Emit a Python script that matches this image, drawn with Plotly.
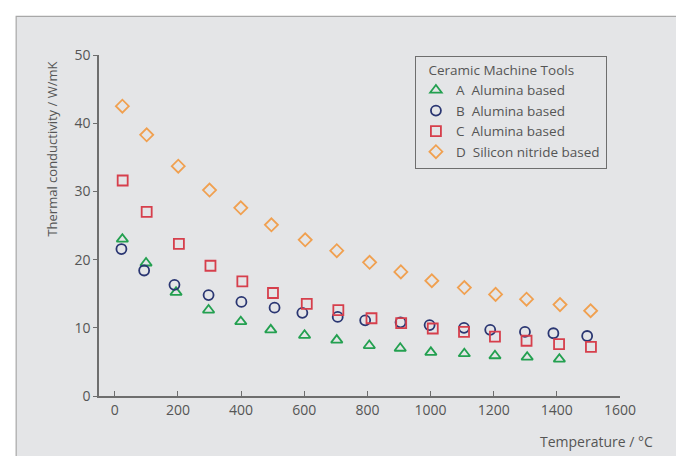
import plotly.graph_objects as go

# Data
a_temp = [24, 99, 194, 297, 399, 494, 601, 703, 806, 904, 1001, 1107, 1204, 1306, 1408]
a_k = [23.0, 19.5, 15.2, 12.6, 10.9, 9.7, 8.9, 8.2, 7.4, 7.0, 6.4, 6.2, 5.9, 5.7, 5.4]

b_temp = [21, 93, 189, 297, 401, 506, 594, 706, 793, 905, 997, 1106, 1189, 1299, 1389, 1496]
b_k = [21.55, 18.4, 16.3, 14.8, 13.8, 12.95, 12.2, 11.6, 11.1, 10.8, 10.4, 10.0, 9.7, 9.4, 9.2, 8.8]

c_temp = [25, 101, 203, 303, 404, 501, 608, 708, 813, 907, 1007, 1106, 1204, 1304, 1407, 1508]
c_k = [31.6, 27.0, 22.3, 19.1, 16.8, 15.1, 13.5, 12.6, 11.4, 10.7, 9.9, 9.4, 8.7, 8.1, 7.6, 7.2]

d_temp = [24, 101, 201, 300, 399, 496, 603, 703, 807, 906, 1004, 1107, 1206, 1304, 1410, 1507]
d_k = [42.5, 38.3, 33.7, 30.2, 27.6, 25.1, 22.9, 21.3, 19.6, 18.2, 16.9, 15.9, 14.9, 14.2, 13.4, 12.5]

x_ticks = [0, 200, 400, 600, 800, 1000, 1200, 1400, 1600]
y_ticks = [0, 10, 20, 30, 40, 50]

series = [
    ("A  Alumina based", a_temp, a_k, "triangle-up-open", "#23a050"),
    ("B  Alumina based", b_temp, b_k, "circle-open", "#2a3672"),
    ("C  Alumina based", c_temp, c_k, "square-open", "#d63f4c"),
    ("D  Silicon nitride based", d_temp, d_k, "diamond-open", "#f0a050"),
]

FONT = "Open Sans"
TXT = "#555555"
AX = "#6e6e6e"

fig = go.Figure()
for name, xs, ys, sym, col in series:
    fig.add_trace(go.Scatter(
        x=xs, y=ys, mode="markers", name=name,
        marker=dict(symbol=sym, size=10, color=col, line=dict(width=1.8, color=col)),
    ))

fig.update_layout(
    width=684, height=456,
    margin=dict(l=91, r=72, t=47, b=68, pad=0),
    paper_bgcolor="white",
    plot_bgcolor="rgba(0,0,0,0)",
    font=dict(family=FONT, size=14, color=TXT),
    showlegend=True,
    legend=dict(
        title=dict(text="   Ceramic Machine Tools", font=dict(size=13.5, color=TXT)),
        x=0.606, y=0.997, xanchor="left", yanchor="top",
        bgcolor="rgba(0,0,0,0)", bordercolor="#6e6e6e", borderwidth=1.2,
        font=dict(size=13.5, color=TXT), tracegroupgap=0, itemsizing="trace",
        itemwidth=30,
    ),
    xaxis=dict(
        range=[-50, 1600], tickvals=x_ticks, ticktext=[str(v) for v in x_ticks],
        showgrid=False, zeroline=False, showline=True, linecolor=AX, linewidth=1.5,
        ticks="inside", ticklen=5, tickwidth=1.3, tickcolor=AX,
        tickfont=dict(size=14, color=TXT, family=FONT),
    ),
    yaxis=dict(
        range=[0, 50], tickvals=y_ticks, ticktext=[str(v) for v in y_ticks],
        showgrid=False, zeroline=False, showline=True, linecolor=AX, linewidth=1.5,
        ticks="outside", ticklen=4, tickwidth=1.3, tickcolor=AX,
        tickfont=dict(size=14, color=TXT, family=FONT),
    ),
    shapes=[dict(
        type="rect", xref="paper", yref="paper", layer="below",
        x0=-0.159, x1=1.125, y0=-0.25, y1=1.113,
        fillcolor="#e4e5e7", line=dict(color="#a8a8a8", width=1.2),
    )],
    annotations=[
        dict(text="Thermal conductivity / W/mK", xref="paper", yref="paper",
             x=-0.09, y=0.723, textangle=-90, showarrow=False,
             xanchor="center", yanchor="middle", font=dict(size=13, color=TXT)),
        dict(text="Temperature / °C", xref="paper", yref="paper",
             x=1.067, y=-0.133, showarrow=False,
             xanchor="right", yanchor="middle", font=dict(size=14, color=TXT)),
    ],
)

fig.write_html("out.html")
